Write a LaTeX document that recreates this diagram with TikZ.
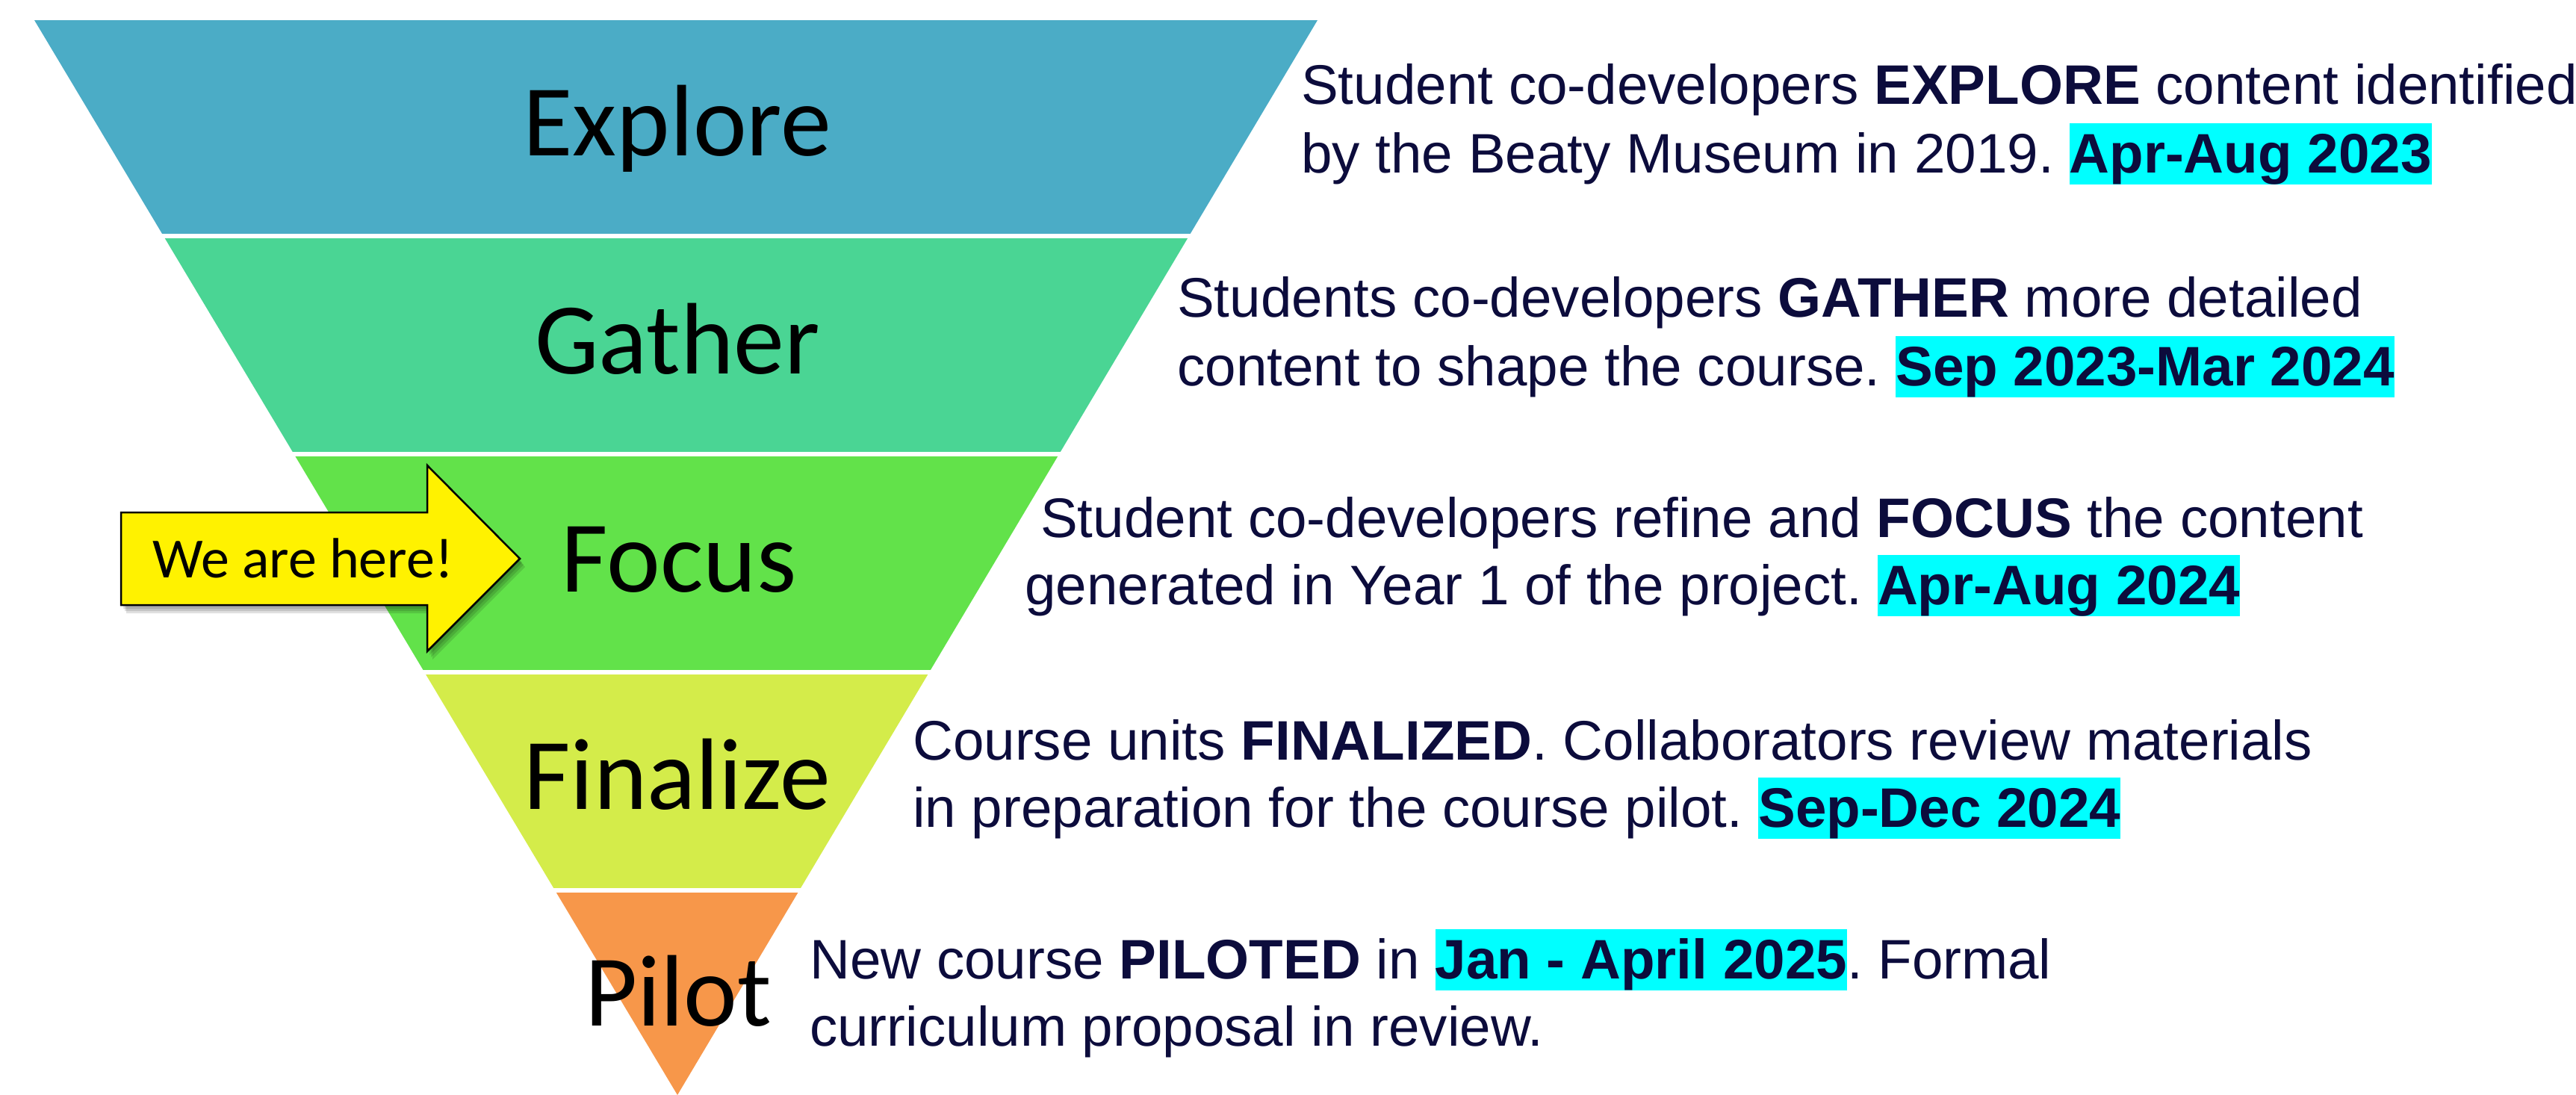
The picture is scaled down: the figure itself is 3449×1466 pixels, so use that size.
\documentclass[tikz,border=0pt]{standalone}
\usepackage{fontspec}
\setmainfont{Liberation Sans}
\newfontfamily\calfont{Carlito}
\frenchspacing
\definecolor{cExplore}{HTML}{4BACC6}
\definecolor{cGather}{HTML}{4AD594}
\definecolor{cFocus}{HTML}{62E24A}
\definecolor{cFinal}{HTML}{D4EC4A}
\definecolor{cPilot}{HTML}{F7974A}
\definecolor{navy}{HTML}{0C0C3C}
\definecolor{hlcyan}{HTML}{00FFFF}
\newcommand{\hlbox}[1]{{\setlength{\fboxsep}{0pt}\colorbox{hlcyan}{\rule[-0.22em]{0pt}{1.11em}#1}}}
\tikzset{
  stagelabel/.style={font=\calfont\fontsize{136}{160}\selectfont, text=black, anchor=base, inner sep=0pt},
  desc/.style={font=\frenchspacing\fontsize{74.6}{91}\selectfont, text=navy, anchor=base west, inner sep=0pt},
  herelabel/.style={font=\calfont\fontsize{76}{90}\selectfont, text=black, anchor=base west, inner sep=0pt},
}
\begin{document}
\begin{tikzpicture}[x=1pt,y=-1pt]
\useasboundingbox[fill=white] (0,0) rectangle (3449,1466);
% funnel
\begin{scope}
\clip (46,27) -- (1764,27) -- (907,1466) -- cycle;
\fill[cExplore] (0,27) rectangle (1800,313);
\fill[cGather] (0,319) rectangle (1800,605);
\fill[cFocus] (0,611) rectangle (1800,897);
\fill[cFinal] (0,903) rectangle (1800,1189);
\fill[cPilot] (0,1195) rectangle (1800,1480);
\end{scope}
\node[stagelabel] (explore) at (907,208) {Explore};
\node[stagelabel] (gather) at (907,500) {Gather};
\node[stagelabel] (focus) at (909,792) {Focus};
\node[stagelabel] (finalize) at (907,1083) {Finalize};
\node[stagelabel] (pilot) at (908,1373) {Pilot};
% arrow shadow
\foreach \dx/\dy in {3/5,5/8,7/11}{
  \fill[black, opacity=0.12, shift={(\dx,\dy)}] (162,686) -- (572,686) -- (572,623) -- (696,748) -- (572,872) -- (572,810) -- (162,810) -- cycle;
}
\draw[line width=2.5pt, fill=yellow, line join=miter] (162,686) -- (572,686) -- (572,623) -- (696,748) -- (572,872) -- (572,810) -- (162,810) -- cycle;
\node[herelabel] (here) at (204,773) {We are here!};
% descriptions
\node[desc] (t1a) at (1742,140) {Student co-developers \textbf{EXPLORE} content identified};
\node[desc] (t1b) at (1742,231) {by the Beaty Museum in 2019. \hlbox{\textbf{Apr-Aug 2023}}};
\node[desc] (t2a) at (1576,424) {Students co-developers \textbf{GATHER} more detailed};
\node[desc] (t2b) at (1576,516) {content to shape the course. \hlbox{\textbf{Sep 2023-Mar 2024}}};
\node[desc] (t3a) at (1393,719) {Student co-developers refine and \textbf{FOCUS} the content};
\node[desc] (t3b) at (1372,809) {generated in Year 1 of the project. \hlbox{\textbf{Apr-Aug 2024}}};
\node[desc] (t4a) at (1222,1017) {Course units \textbf{FINALIZED}. Collaborators review materials};
\node[desc] (t4b) at (1222,1107) {in preparation for the course pilot. \hlbox{\textbf{Sep-Dec 2024}}};
\node[desc] (t5a) at (1084,1310) {New course \textbf{PILOTED} in \hlbox{\textbf{Jan - April 2025}}. Formal};
\node[desc] (t5b) at (1084,1400) {curriculum proposal in review.};
\end{tikzpicture}
\end{document}
